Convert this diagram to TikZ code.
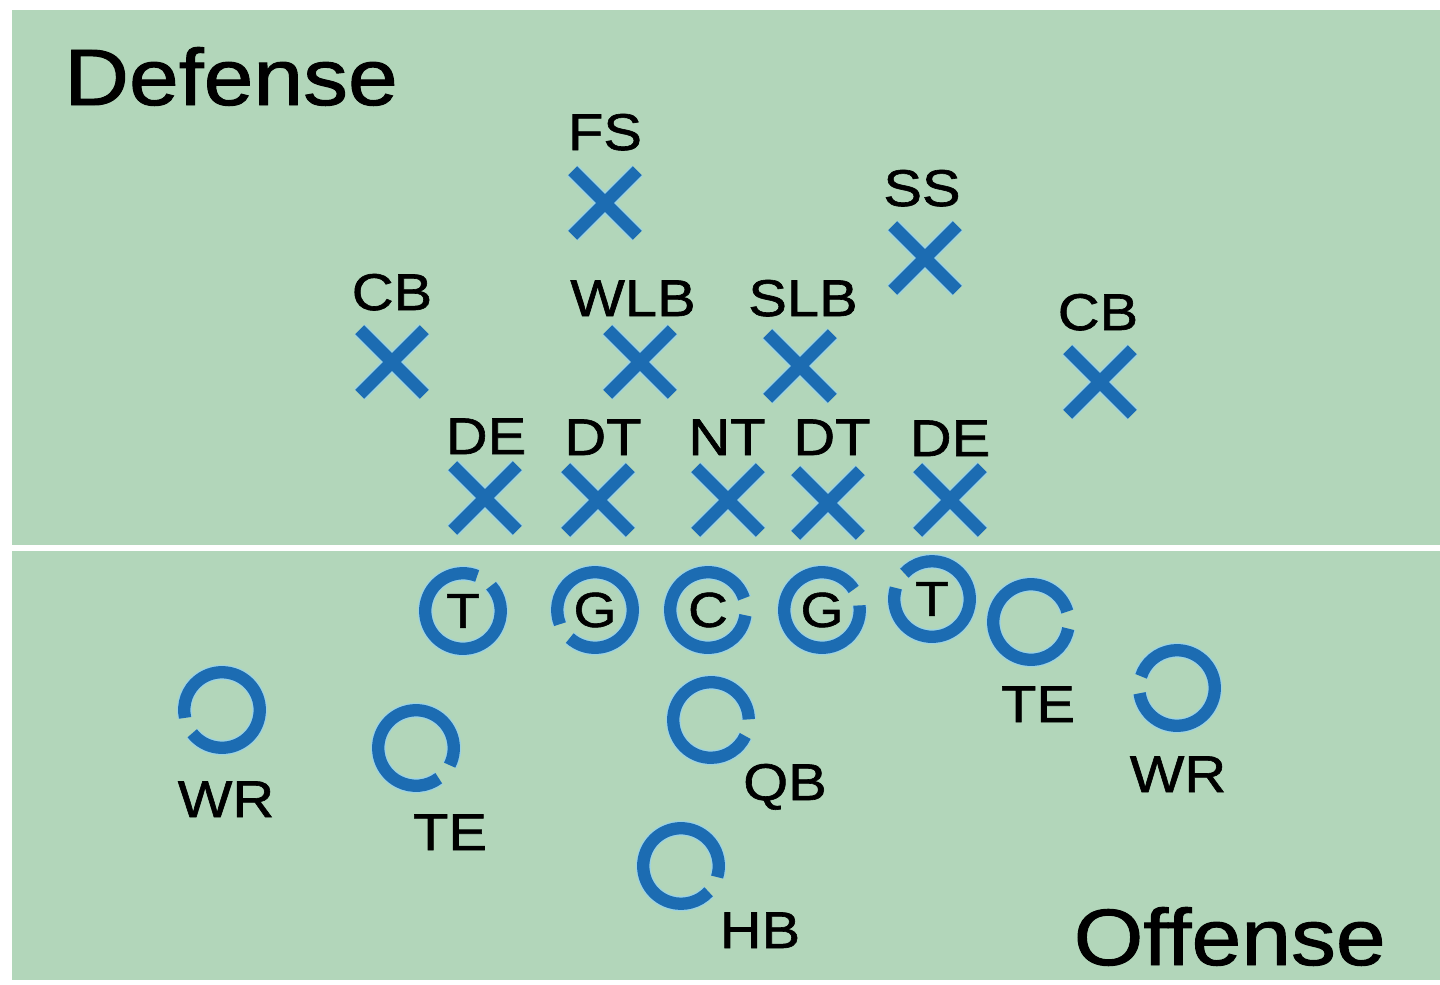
\documentclass[tikz,border=0pt]{standalone}
\usepackage{fontspec}
\setmainfont{Liberation Sans}[FakeStretch=1.12,FakeBold=1.2]
\definecolor{field}{HTML}{B2D6BA}
\definecolor{mark}{HTML}{1C6CB2}
\definecolor{glow}{HTML}{9CD2E4}
\tikzset{
  xmark/.style={minimum size=36.4pt, inner sep=0pt},
  xline/.style={draw=mark, line width=7.2pt, preaction={draw=glow, line width=8.7pt}},
  ringnode/.style={circle, minimum size=43pt, inner sep=0pt, font=\fontsize{28}{28}\selectfont},
  ring/.style={draw=mark, line width=7pt, preaction={draw=glow, line width=8.5pt}},
  tag/.style={anchor=base, inner sep=0pt, font=\fontsize{29.4}{30}\selectfont},
  side/.style={anchor=base, inner sep=0pt, font=\fontsize{45.5}{46}\selectfont}
}

\begin{document}
\begin{tikzpicture}[x=0.02cm,y=-0.02cm]
  \useasboundingbox (0,0) rectangle (1440,984);
  \fill[white] (0,0) rectangle (1440,984);
  \fill[field] (12,10) rectangle (1440,980);
  \fill[white] (12,545) rectangle (1440,551);

  % defense
  \node[side,anchor=base west] (deflab) at (64,105) {Defense};
  \node[xmark] (fs) at (605,203) {};
  \node[xmark] (ss) at (925,258) {};
  \node[xmark] (cbl) at (392,362) {};
  \node[xmark] (wlb) at (640,362) {};
  \node[xmark] (slb) at (800,366) {};
  \node[xmark] (cbr) at (1100,382) {};
  \node[xmark] (del) at (485,498) {};
  \node[xmark] (dtl) at (598,500) {};
  \node[xmark] (nt) at (728,500) {};
  \node[xmark] (dtr) at (828,503) {};
  \node[xmark] (der) at (950,500) {};
  \foreach \n in {fs,ss,cbl,wlb,slb,cbr,del,dtl,nt,dtr,der}
    \draw[xline] (\n.north west) -- (\n.south east) (\n.north east) -- (\n.south west);

  \node[tag] (fslab) at (605,150) {FS};
  \node[tag] (sslab) at (922,206) {SS};
  \node[tag] (cbllab) at (392,310) {CB};
  \node[tag] (wlblab) at (633,316) {WLB};
  \node[tag] (slblab) at (803,316) {SLB};
  \node[tag] (cbrlab) at (1098,330) {CB};
  \node[tag] (dellab) at (486,454) {DE};
  \node[tag] (dtllab) at (603,455) {DT};
  \node[tag] (ntlab) at (727,455) {NT};
  \node[tag] (dtrlab) at (832,455) {DT};
  \node[tag] (derlab) at (950,456) {DE};

  % offense
  \node[side,anchor=base east] (offlab) at (1386,965) {Offense};
  \node[ringnode] (lt) at (463,611) {T};
  \node[ringnode] (lg) at (595,610) {G};
  \node[ringnode] (c) at (708,610) {C};
  \node[ringnode] (rg) at (822,610) {G};
  \node[ringnode] (rt) at (932,599) {T};
  \node[ringnode] (ter) at (1031,622) {};
  \node[ringnode] (wrr) at (1177,688) {};
  \node[ringnode] (wrl) at (222,710) {};
  \node[ringnode] (tel) at (416,748) {};
  \node[ringnode] (qb) at (711,720) {};
  \node[ringnode] (hb) at (681,866) {};
  \foreach \n/\g in {lt/55,lg/215,c/5,rg/20,rt/150,ter/3,wrr/175,wrl/205,tel/-40,qb/-12,hb/-30}
    \draw[ring] (\n.center) ++(\g+13:21.5pt) arc[start angle=\g+13, delta angle=334, radius=21.5pt];

  \node[tag] (terlab) at (1038,722) {TE};
  \node[tag] (wrrlab) at (1178,792) {WR};
  \node[tag] (wrllab) at (226,817) {WR};
  \node[tag] (tellab) at (450,850) {TE};
  \node[tag] (qblab) at (785,800) {QB};
  \node[tag] (hblab) at (760,948) {HB};
\end{tikzpicture}
\end{document}
